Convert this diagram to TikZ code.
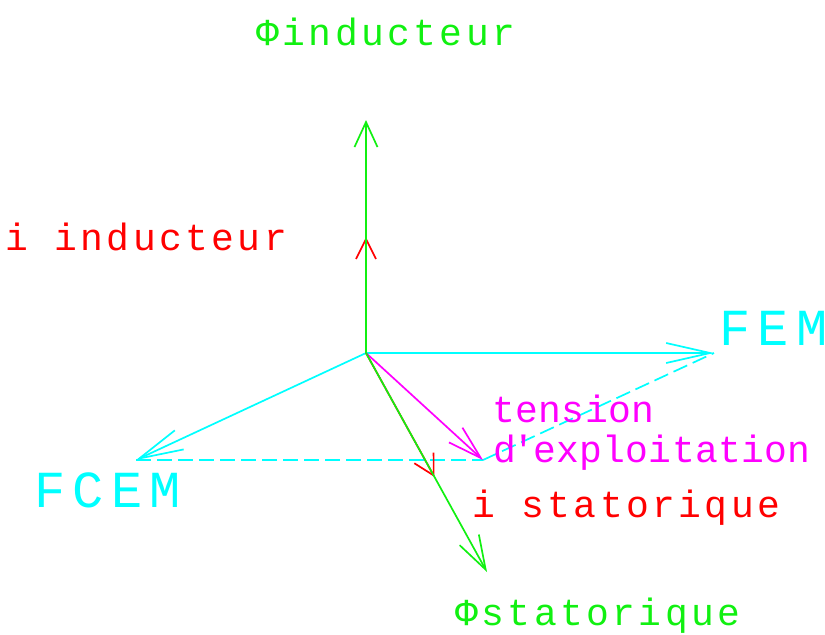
\documentclass[tikz,border=0pt]{standalone}
\usepackage{fontspec}
\usepackage{xcolor}
\usepackage{tikz}
\usetikzlibrary{arrows.meta,calc}
\newfontfamily\lblfont[LetterSpace=9]{Liberation Mono}
\newfontfamily\tenfont[LetterSpace=1]{Liberation Mono}
\newfontfamily\capfont[LetterSpace=14]{Liberation Mono}
\definecolor{phigreen}{HTML}{11F011}
\definecolor{ired}{HTML}{FF0000}
\definecolor{femcyan}{HTML}{00FFFF}
\definecolor{tenmag}{HTML}{FF00FF}

\begin{document}
\begin{tikzpicture}[x=0.5pt, y=-0.5pt,
    vec/.style={line width=0.85pt},
    lbl/.style={anchor=base west, inner sep=0pt, font=\lblfont\fontsize{19pt}{22pt}\selectfont},
    tlbl/.style={anchor=base west, inner sep=0pt, font=\tenfont\fontsize{19pt}{22pt}\selectfont},
    clbl/.style={anchor=base west, inner sep=0pt, font=\capfont\fontsize{26pt}{30pt}\selectfont}]
    \useasboundingbox (0,0) rectangle (825,634);

    % origin and vector tips
    \coordinate (O) at (366,353);
    \coordinate (phiInd) at (366,120);
    \coordinate (iInd) at (366,237);
    \coordinate (fem) at (714,353);
    \coordinate (fcem) at (136,460);
    \coordinate (tens) at (483,460);
    \coordinate (phiStat) at (487,572);
    \coordinate (iStat) at ($(O)!0.566!(phiStat)$);

    % construction lines
    \draw[vec, femcyan, dash pattern=on 7.5pt off 3pt] (fcem) -- (tens);
    \draw[vec, femcyan, dash pattern=on 7.5pt off 3pt] (tens) -- (fem);

    \draw[vec, femcyan, -{Straight Barb[length=22pt, width=10pt]}] (O) -- (fem);
    \draw[vec, femcyan, -{Straight Barb[length=22pt, width=10.5pt]}] (O) -- (fcem);
    \draw[vec, tenmag, -{Straight Barb[length=17pt, width=10pt]}] (O) -- (tens);

    \draw[vec, ired, -{Straight Barb[length=10pt, width=10pt]}] (O) -- (iInd);
    \draw[vec, ired, -{Straight Barb[length=10pt, width=11pt]}] (O) -- (iStat);

    \draw[vec, phigreen] (O) -- (iInd);
    \draw[vec, phigreen, -{Straight Barb[length=12.5pt, width=11.5pt]}] (O) -- (phiInd);
    \draw[vec, phigreen, -{Straight Barb[length=17pt, width=11pt]}] (O) -- (phiStat);

    % labels
    \node[lbl, text=phigreen] (phiIndLbl) at (256,45) {Φinducteur};
    \node[lbl, text=ired] (iIndLbl) at (5,250) {i inducteur};
    \node[clbl, text=femcyan] (femLbl) at (719,345) {FEM};
    \node[clbl, text=femcyan] (fcemLbl) at (34,507) {FCEM};
    \node[tlbl, text=tenmag] (tensLbl) at (492,422) {tension};
    \node[tlbl, text=tenmag] (explLbl) at (493,462) {d\kern-2pt'\kern-1pt exploitation};
    \node[lbl, text=ired] (iStatLbl) at (472,517) {i statorique};
    \node[lbl, text=phigreen] (phiStatLbl) at (455,625) {Φstatorique};
\end{tikzpicture}
\end{document}
